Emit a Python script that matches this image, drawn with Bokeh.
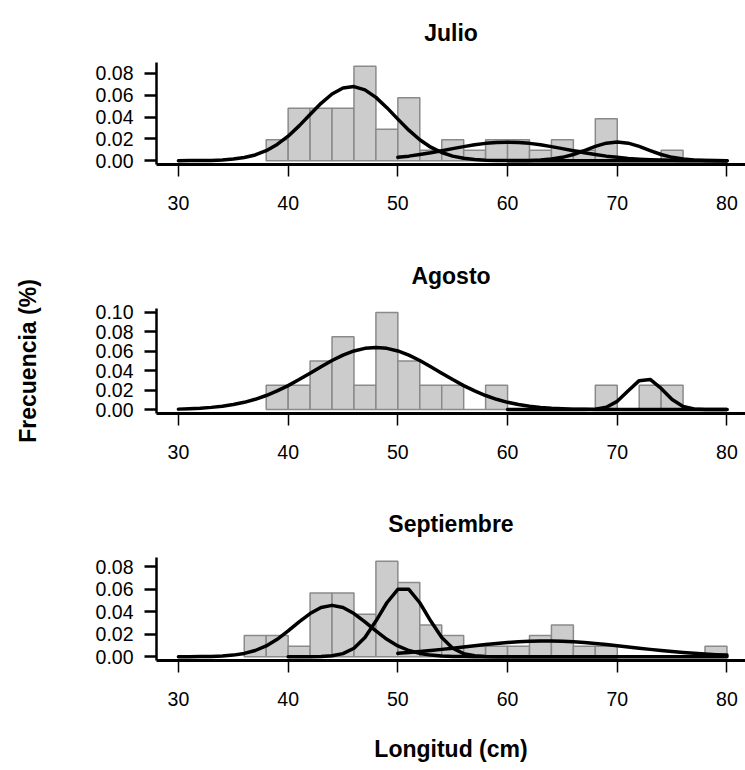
from bokeh.plotting import figure
from bokeh.layouts import column
from bokeh.models import FixedTicker, NumeralTickFormatter, Range1d
from bokeh.embed import file_html
from bokeh.resources import INLINE

FONT = "Liberation Sans"

# ---------------- data ----------------
months = ["Julio", "Agosto", "Septiembre"]
x_ticks = [30, 40, 50, 60, 70, 80]

julio_bins = [38, 40, 42, 44, 46, 48, 50, 52, 54, 56, 58, 60, 62, 64, 66, 68, 70, 72, 74]
julio_dens = [0.0192, 0.0481, 0.0481, 0.0481, 0.0865, 0.0288, 0.0577, 0.0096, 0.0192, 0.0096,
              0.0192, 0.0192, 0.0096, 0.0192, 0.0096, 0.0385, 0.0, 0.0, 0.0096]

agosto_bins = [38, 40, 42, 44, 46, 48, 50, 52, 54, 56, 58, 60, 62, 64, 66, 68, 70, 72, 74]
agosto_dens = [0.025, 0.025, 0.050, 0.075, 0.025, 0.100, 0.050, 0.025, 0.025, 0.0,
               0.025, 0.0, 0.0, 0.0, 0.0, 0.025, 0.0, 0.025, 0.025]

sept_bins = [36, 38, 40, 42, 44, 46, 48, 50, 52, 54, 56, 58, 60, 62, 64, 66, 68, 70, 72, 74, 76, 78]
sept_dens = [0.0189, 0.0189, 0.0094, 0.0566, 0.0566, 0.0377, 0.0849, 0.0660, 0.0283, 0.0189, 0.0094,
             0.0094, 0.0094, 0.0189, 0.0283, 0.0094, 0.0094, 0.0, 0.0, 0.0, 0.0, 0.0094]

x_30_80 = list(range(30, 81))
x_40_70 = list(range(40, 71))
x_50_80 = list(range(50, 81))
x_60_80 = list(range(60, 81))

julio_c1 = [0.0000, 0.0001, 0.0001, 0.0003, 0.0007, 0.0015, 0.0029, 0.0053, 0.0092, 0.0149,
            0.0225, 0.0319, 0.0423, 0.0526, 0.0611, 0.0666, 0.0679, 0.0649, 0.0580, 0.0486,
            0.0381, 0.0280, 0.0192, 0.0124, 0.0075, 0.0042, 0.0022, 0.0011, 0.0005, 0.0002,
            0.0001, 0.0000, 0.0000, 0.0000, 0.0000, 0.0000, 0.0000, 0.0000, 0.0000, 0.0000,
            0.0000, 0.0000, 0.0000, 0.0000, 0.0000, 0.0000, 0.0000, 0.0000, 0.0000, 0.0000,
            0.0000]
julio_c2 = [0.0031, 0.0042, 0.0057, 0.0073, 0.0092, 0.0111, 0.0129, 0.0146, 0.0159, 0.0167,
            0.0170, 0.0167, 0.0159, 0.0146, 0.0129, 0.0111, 0.0092, 0.0073, 0.0057, 0.0042,
            0.0031, 0.0021, 0.0014, 0.0009, 0.0006, 0.0004, 0.0002, 0.0001, 0.0001, 0.0000,
            0.0000]
julio_c3 = [0.0000, 0.0001, 0.0002, 0.0006, 0.0015, 0.0031, 0.0057, 0.0093, 0.0131, 0.0161,
            0.0172, 0.0161, 0.0131, 0.0093, 0.0057, 0.0031, 0.0015, 0.0006, 0.0002, 0.0001,
            0.0000]

agosto_c1 = [0.0005, 0.0009, 0.0014, 0.0023, 0.0035, 0.0052, 0.0075, 0.0106, 0.0145, 0.0192,
             0.0247, 0.0309, 0.0375, 0.0441, 0.0505, 0.0560, 0.0603, 0.0630, 0.0640, 0.0630,
             0.0603, 0.0560, 0.0505, 0.0441, 0.0375, 0.0309, 0.0247, 0.0192, 0.0145, 0.0106,
             0.0075, 0.0052, 0.0035, 0.0023, 0.0014, 0.0009, 0.0005, 0.0003, 0.0002, 0.0001,
             0.0001, 0.0000, 0.0000, 0.0000, 0.0000, 0.0000, 0.0000, 0.0000, 0.0000, 0.0000,
             0.0000]
agosto_c2 = [0.0000, 0.0000, 0.0000, 0.0000, 0.0000, 0.0000, 0.0000, 0.0001, 0.0005, 0.0025,
             0.0085, 0.0194, 0.0298, 0.0310, 0.0218, 0.0104, 0.0033, 0.0007, 0.0001, 0.0000,
             0.0000]

sept_c1 = [0.0000, 0.0000, 0.0001, 0.0002, 0.0006, 0.0014, 0.0029, 0.0055, 0.0096, 0.0155,
           0.0229, 0.0310, 0.0384, 0.0438, 0.0457, 0.0438, 0.0384, 0.0310, 0.0229, 0.0155,
           0.0096, 0.0055, 0.0029, 0.0014, 0.0006, 0.0002, 0.0001, 0.0000, 0.0000, 0.0000,
           0.0000, 0.0000, 0.0000, 0.0000, 0.0000, 0.0000, 0.0000, 0.0000, 0.0000, 0.0000,
           0.0000, 0.0000, 0.0000, 0.0000, 0.0000, 0.0000, 0.0000, 0.0000, 0.0000, 0.0000,
           0.0000]
sept_c2 = [0.0000, 0.0000, 0.0000, 0.0002, 0.0008, 0.0027, 0.0075, 0.0171, 0.0317, 0.0480,
           0.0600, 0.0600, 0.0480, 0.0317, 0.0171, 0.0075, 0.0027, 0.0008, 0.0002, 0.0000,
           0.0000, 0.0000, 0.0000, 0.0000, 0.0000, 0.0000, 0.0000, 0.0000, 0.0000, 0.0000,
           0.0000]
sept_c3 = [0.0030, 0.0038, 0.0046, 0.0055, 0.0065, 0.0076, 0.0087, 0.0098, 0.0108, 0.0118,
           0.0126, 0.0133, 0.0137, 0.0140, 0.0140, 0.0137, 0.0133, 0.0126, 0.0118, 0.0108,
           0.0098, 0.0087, 0.0076, 0.0065, 0.0055, 0.0046, 0.0038, 0.0030, 0.0024, 0.0018,
           0.0014]

julio_yticks = [0.0, 0.02, 0.04, 0.06, 0.08]
agosto_yticks = [0.0, 0.02, 0.04, 0.06, 0.08, 0.10]
sept_yticks = [0.0, 0.02, 0.04, 0.06, 0.08]

BIN_W = 2
TICK_FS = "19.5px"


def make_panel(title, bins, dens, curves, yticks, height, top, bottom, title_standoff,
               ylabel=None, xlabel=None):
    ymax = max(dens)
    p = figure(width=745, height=height, output_backend="svg", toolbar_location=None,
               x_range=Range1d(28, 81.69),
               y_range=Range1d(-0.04 * ymax, 1.04 * ymax),
               min_border_left=156, min_border_right=0,
               min_border_top=top, min_border_bottom=bottom,
               background_fill_color="white", border_fill_color="white")
    p.outline_line_color = None
    p.xgrid.visible = False
    p.ygrid.visible = False

    p.title.text = title
    p.title.align = "center"
    p.title.text_font = FONT
    p.title.text_font_size = "23px"
    p.title.text_font_style = "bold"
    p.title.text_color = "black"
    p.title.standoff = title_standoff

    rights = [b + BIN_W for b in bins]
    bottoms = [0.0 for _ in bins]
    p.quad(left=bins, right=rights, top=dens, bottom=bottoms,
           fill_color="#cccccc", line_color="#8a8a8a", line_width=1.5)

    for xs, ys in curves:
        p.line(xs, ys, line_color="black", line_width=3.5, line_join="round", line_cap="round")

    xa = p.xaxis[0]
    xa.ticker = FixedTicker(ticks=x_ticks)
    xa.axis_line_width = 3
    xa.axis_line_color = "black"
    xa.major_tick_line_width = 1.5
    xa.major_tick_line_color = "black"
    xa.major_tick_out = 12
    xa.major_tick_in = 0
    xa.minor_tick_line_color = None
    xa.major_label_text_font = FONT
    xa.major_label_text_font_size = TICK_FS
    xa.major_label_text_color = "black"
    xa.major_label_standoff = 19

    ya = p.yaxis[0]
    ya.ticker = FixedTicker(ticks=yticks)
    ya.formatter = NumeralTickFormatter(format="0.00")
    ya.axis_line_width = 2.5
    ya.axis_line_color = "black"
    ya.major_tick_line_width = 2.5
    ya.major_tick_line_color = "black"
    ya.major_tick_out = 12
    ya.major_tick_in = 0
    ya.minor_tick_line_color = None
    ya.major_label_text_font = FONT
    ya.major_label_text_font_size = TICK_FS
    ya.major_label_text_color = "black"
    ya.major_label_standoff = 11

    if ylabel:
        ya.axis_label = ylabel
        ya.axis_label_text_font = FONT
        ya.axis_label_text_font_size = "23px"
        ya.axis_label_text_font_style = "bold"
        ya.axis_label_text_color = "black"
        ya.axis_label_standoff = 52
    if xlabel:
        xa.axis_label = xlabel
        xa.axis_label_text_font = FONT
        xa.axis_label_text_font_size = "23px"
        xa.axis_label_text_font_style = "bold"
        xa.axis_label_text_color = "black"
        xa.axis_label_standoff = 27
    return p


p1 = make_panel(months[0], julio_bins, julio_dens,
                [(x_30_80, julio_c1), (x_50_80, julio_c2), (x_60_80, julio_c3)],
                julio_yticks, 240, 62, 76, 34)
p2 = make_panel(months[1], agosto_bins, agosto_dens,
                [(x_30_80, agosto_c1), (x_60_80, agosto_c2)],
                agosto_yticks, 247, 68, 74, 40, ylabel="Frecuencia (%)")
p3 = make_panel(months[2], sept_bins, sept_dens,
                [(x_30_80, sept_c1), (x_40_70, sept_c2), (x_50_80, sept_c3)],
                sept_yticks, 283, 70, 110, 41, xlabel="Longitud (cm)")

layout = column(p1, p2, p3, spacing=0)

open("out.html", "w").write(file_html(layout, INLINE))
